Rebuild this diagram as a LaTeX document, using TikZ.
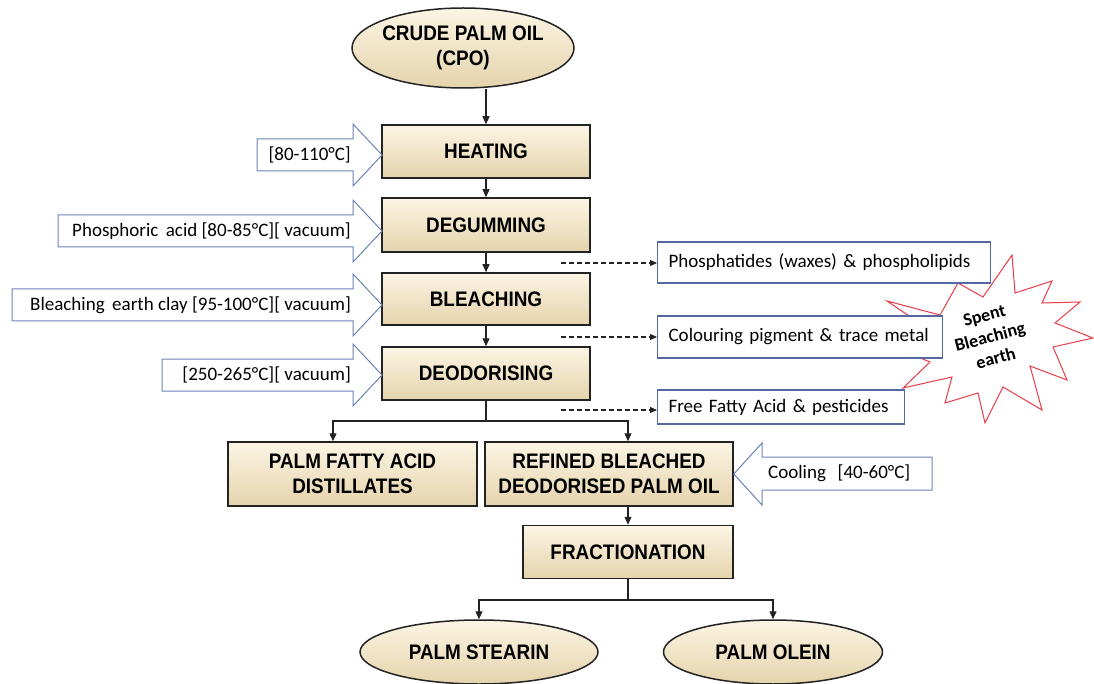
\documentclass[tikz,border=0pt]{standalone}
\usepackage{fontspec}
\setmainfont{Carlito}
\newfontfamily\boxfont{Liberation Sans}[FakeStretch=0.9]
\usepackage{tikz}
\usetikzlibrary{shapes, arrows.meta}
\definecolor{sandtop}{RGB}{252, 245, 228}
\definecolor{sandbot}{RGB}{229, 211, 172}
\definecolor{edge}{RGB}{35, 35, 35}
\definecolor{feedblue}{RGB}{110, 130, 185}
\definecolor{outblue}{RGB}{85, 105, 160}
\definecolor{spent}{RGB}{232, 60, 72}

% block arrow into a step from the left: name, shaft start, y, text
\newcommand*{\feedarrow}[4]{%
  \draw[feedline] (#2, #3-16) -- (353, #3-16) -- (353, #3-31) -- (382, #3)
    -- (353, #3+31) -- (353, #3+16) -- (#2, #3+16) -- cycle;
  \node (#1) at (351, #3) [feedtext] {#4};
}

\begin{document}
\begin{tikzpicture}[
   x=1pt, y=-1pt,
   >={Triangle[length=8pt, width=7pt]},
   stepbox/.style={rectangle, draw=edge, line width=1.5, top color=sandtop,
                   bottom color=sandbot, align=center, inner sep=2,
                   font=\boxfont\bfseries\fontsize{21}{25}\selectfont,
                   minimum width=208, minimum height=53},
   endell/.style={ellipse, draw=edge, line width=1.5, top color=sandtop,
                  bottom color=sandbot, align=center, inner sep=0, inner xsep=-6,
                  font=\boxfont\bfseries\fontsize{21}{25}\selectfont},
   outbox/.style={rectangle, draw=outblue, line width=1.2, fill=white,
                  align=left, anchor=west, inner xsep=11, inner ysep=0,
                  font=\fontsize{19}{23}\selectfont},
   feedline/.style={draw=feedblue, line width=1, fill=white},
   feedtext/.style={anchor=east, inner sep=0, font=\fontsize{19}{23}\selectfont},
   flow/.style={->, draw=edge, line width=1.3},
   waste/.style={->, dash pattern=on 5pt off 3pt, draw=edge, line width=1.1,
                 >={Triangle[length=7pt, width=6pt]}},
   spentline/.style={draw=spent, line width=1, fill=white}
  ]

  \useasboundingbox (0, 0) rectangle (1094, 684);

  % main line
  \node (cpo) at (463, 48) [endell, minimum width=222, minimum height=80] {CRUDE PALM OIL\\(CPO)};
  \node (heat) at (486, 151.5) [stepbox] {HEATING};
  \node (degum) at (486, 225) [stepbox, minimum height=54] {DEGUMMING};
  \node (bleach) at (486, 299) [stepbox, minimum height=52] {BLEACHING};
  \node (deodor) at (486, 373.5) [stepbox] {DEODORISING};
  \node (pfad) at (352.5, 474) [stepbox, minimum width=249, minimum height=64] {PALM FATTY ACID\\DISTILLATES};
  \node (rbd) at (609, 474) [stepbox, minimum width=248, minimum height=64] {REFINED BLEACHED\\DEODORISED PALM OIL};
  \node (frac) at (628, 552) [stepbox, minimum width=210] {FRACTIONATION};
  \node (stearin) at (479, 652) [endell, minimum width=238, minimum height=64] {PALM STEARIN};
  \node (olein) at (773, 652) [endell, minimum width=219, minimum height=64] {PALM OLEIN};

  \draw[flow] (cpo.south -| heat.north) -- (heat.north);
  \foreach \B/\E in {heat/degum, degum/bleach, bleach/deodor} {
    \draw[flow] (\B) -- (\E);
  }

  \coordinate (deosplit) at (486, 421);
  \draw[flow] (deodor.south) -- (deosplit) -| ([xshift=-19.5]pfad.north);
  \draw[flow] (deosplit) -| ([xshift=19]rbd.north);
  \draw[flow] (rbd.south -| frac.north) -- (frac.north);

  \coordinate (fracsplit) at (628, 600);
  \draw[edge, line width=1.3] (frac.south) -- (fracsplit);
  \foreach \E in {stearin, olein} {
    \draw[flow] (fracsplit) -| (\E.north);
  }

  % inputs
  \feedarrow{heatin}{257}{155}{[80-110°C]}
  \feedarrow{degumin}{58}{231}{Phosphoric\, acid [80-85°C][ vacuum]}
  \feedarrow{bleachin}{12}{305}{Bleaching\, earth clay [95-100°C][ vacuum]}
  \feedarrow{deodorin}{162}{375}{[250-265°C][ vacuum]}

  \draw[feedline] (rbd.east) -- (762, 443) -- (762, 457) -- (932, 457)
    -- (932, 490) -- (762, 490) -- (762, 505) -- cycle;
  \node (coolin) at (768, 473) [feedtext, anchor=west] {Cooling\, \ [40-60°C]};

  % removed
  \draw[spentline] (1012,255) -- (1015,293) -- (1052,281) -- (1042,303)
    -- (1080,302) -- (1055,323) -- (1093,338) -- (1053,347) -- (1067,380)
    -- (1030,366) -- (1042,410) -- (1003,387) -- (985,423) -- (978,393)
    -- (945,403) -- (952,377) -- (903,388) -- (930,362) -- (888,345)
    -- (940,337) -- (887,301) -- (940,315) -- (958,283) -- (983,297) -- cycle;
  \node (spentearth) at (990, 337) [rotate=15, align=center, inner sep=0,
    font=\bfseries\fontsize{18}{22}\selectfont] {Spent\\Bleaching\\earth};

  \node (phos) at (657, 262.5) [outbox, text width=311, minimum height=41] {Phosphatides (waxes) \& phospholipids};
  \node (colour) at (657, 337) [outbox, text width=263, minimum height=42] {\mbox{Colouring pigment \& trace metal}};
  \node (ffa) at (657, 407) [outbox, text width=225, minimum height=34] {Free Fatty Acid \& pesticides};

  \coordinate (w1) at (561, 263);
  \coordinate (w2) at (561, 337);
  \coordinate (w3) at (561, 410);
  \foreach \B/\E in {w1/phos, w2/colour, w3/ffa} {
    \draw[waste] (\B) -- (\B -| \E.west);
  }

\end{tikzpicture}
\end{document}
